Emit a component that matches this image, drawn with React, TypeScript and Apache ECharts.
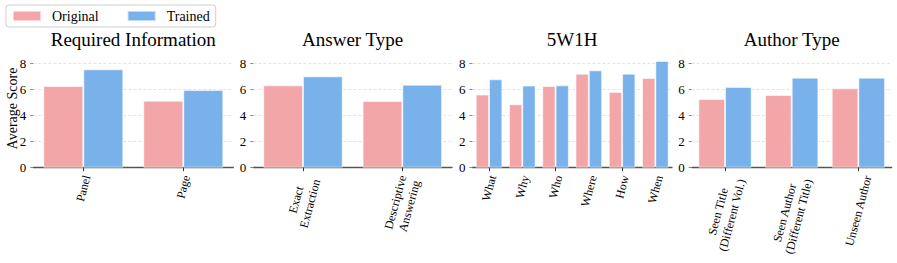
import React, { useEffect, useRef } from "react";
import * as echarts from "echarts";

// ---- data ----
const requiredCats = ["Panel", "Page"];
const requiredOriginal = [6.26, 5.13];
const requiredTrained = [7.54, 5.95];

const answerCats = ["Exact\nExtraction", "Descriptive\nAnswering"];
const answerOriginal = [6.31, 5.11];
const answerTrained = [7.0, 6.36];

const w5h1Cats = ["What", "Why", "Who", "Where", "How", "When"];
const w5h1Original = [5.6, 4.86, 6.26, 7.2, 5.8, 6.87];
const w5h1Trained = [6.77, 6.29, 6.31, 7.46, 7.2, 8.18];

const authorCats = ["Seen Title\n(Different Vol.)", "Seen Author\n(Different Title)", "Unseen Author"];
const authorOriginal = [5.26, 5.57, 6.08];
const authorTrained = [6.18, 6.9, 6.9];

const panelTitles = ["Required Information", "Answer Type", "5W1H", "Author Type"];
const seriesNames = ["Original", "Trained"];
const yMin = 0;
const yMax = 8;
const yStep = 2;

const FONT = '"Liberation Serif", "Times New Roman", serif';
const PINK = "#F2A6A8";
const BLUE = "#79B2EA";

const panels = [
  { cats: requiredCats, orig: requiredOriginal, trained: requiredTrained, left: 33.3, width: 200 },
  { cats: answerCats, orig: answerOriginal, trained: answerTrained, left: 253.3, width: 198.7 },
  { cats: w5h1Cats, orig: w5h1Original, trained: w5h1Trained, left: 472.4, width: 199.6 },
  { cats: authorCats, orig: authorOriginal, trained: authorTrained, left: 691.7, width: 200 },
];

const GRID_TOP = 63.3;
const GRID_H = 104.4;
const LABEL_SIZE = 12;
const LABEL_LH = 14.5;
const ROT = 75;
const PAD = 6;

let measureCtx: CanvasRenderingContext2D | null = null;
function textWidth(s: string): number {
  if (!measureCtx) measureCtx = document.createElement("canvas").getContext("2d");
  if (!measureCtx) return s.length * LABEL_SIZE * 0.5;
  measureCtx.font = `${LABEL_SIZE}px "Liberation Serif"`;
  return measureCtx.measureText(s).width;
}

export default function App() {
  const ref = useRef<HTMLDivElement>(null);
  useEffect(() => {
    if (!ref.current) return;
    const chart = echarts.init(ref.current, undefined, { renderer: "svg" });

    const grid: any[] = [];
    const xAxis: any[] = [];
    const yAxis: any[] = [];
    const series: any[] = [];
    const title: any[] = [];

    panels.forEach((p, i) => {
      grid.push({ left: p.left, width: p.width, top: GRID_TOP, height: GRID_H, containLabel: false });
      title.push({
        text: panelTitles[i],
        left: p.left + p.width / 2,
        top: 30,
        textAlign: "center",
        padding: 0,
        textStyle: { fontFamily: FONT, fontSize: 19, fontWeight: "normal", color: "#000" },
      });
      xAxis.push({
        type: "category",
        gridIndex: i,
        data: p.cats,
        axisLine: { show: true, lineStyle: { color: "#555", width: 1.3 } },
        axisTick: { show: true, alignWithLabel: true, length: 3.5, lineStyle: { color: "#333", width: 1 } },
        axisLabel: { show: false },
        splitLine: { show: false },
      });
      yAxis.push({
        type: "value",
        gridIndex: i,
        min: yMin,
        max: yMax,
        interval: yStep,
        axisLine: { show: false },
        axisTick: { show: true, length: 3, lineStyle: { color: "#888", width: 1 } },
        axisLabel: { margin: 7, fontFamily: "Liberation Serif", fontSize: 13, color: "#000" },
        splitLine: { show: true, lineStyle: { type: [3, 2], color: "#dcdcdc", width: 0.8 } },
      });
      series.push({
        type: "bar",
        name: seriesNames[0],
        xAxisIndex: i,
        yAxisIndex: i,
        data: p.orig,
        barGap: "0%",
        barCategoryGap: "20%",
        clip: false,
        itemStyle: { color: PINK, borderColor: "rgba(255,255,255,0.55)", borderWidth: 1 },
      });
      series.push({
        type: "bar",
        name: seriesNames[1],
        xAxisIndex: i,
        yAxisIndex: i,
        data: p.trained,
        barGap: "0%",
        barCategoryGap: "20%",
        clip: false,
        itemStyle: { color: BLUE, borderColor: "rgba(255,255,255,0.55)", borderWidth: 1 },
      });
      const cats = p.cats;
      series.push({
        type: "custom",
        name: "labels" + i,
        xAxisIndex: i,
        yAxisIndex: i,
        silent: true,
        clip: false,
        z: 10,
        data: cats.map((_, j) => [j, 0]),
        renderItem: (params: any, api: any) => {
          const idx = api.value(0);
          const pt = api.coord([idx, 0]);
          const text = cats[idx];
          const lines = text.split("\n");
          const L = Math.max(...lines.map(textWidth));
          const H = lines.length * LABEL_LH;
          const th = (ROT * Math.PI) / 180;
          const cy = pt[1] + PAD + (L * Math.sin(th) + H * Math.cos(th)) / 2;
          return {
            type: "text",
            x: pt[0],
            y: cy,
            rotation: th,
            style: {
              text,
              align: "center",
              verticalAlign: "middle",
              fontFamily: FONT,
              fontSize: LABEL_SIZE,
              lineHeight: LABEL_LH,
              fill: "#000",
            },
          };
        },
      });
    });

    chart.setOption({
      animation: false,
      backgroundColor: "#fff",
      title,
      legend: {
        data: seriesNames,
        left: 6,
        top: 5,
        orient: "horizontal",
        icon: "rect",
        itemWidth: 28,
        itemHeight: 10,
        itemGap: 28,
        padding: [4, 6, 4, 6],
        borderColor: "#cfcfcf",
        borderWidth: 1,
        borderRadius: 3,
        textStyle: { fontFamily: FONT, fontSize: 14, color: "#000", padding: [0, 0, 0, 6] },
      },
      grid,
      xAxis,
      yAxis,
      series,
      graphic: [
        {
          type: "text",
          x: 12,
          y: 108.5,
          rotation: Math.PI / 2,
          style: {
            text: "Average Score",
            fontFamily: FONT,
            fontSize: 14,
            fill: "#000",
            align: "center",
            verticalAlign: "middle",
          },
        },
      ],
    });
    return () => chart.dispose();
  }, []);
  return (
    <div
      ref={ref}
      style={{ position: "fixed", left: 0, top: 0, width: 897, height: 263, background: "#fff" }}
    />
  );
}
